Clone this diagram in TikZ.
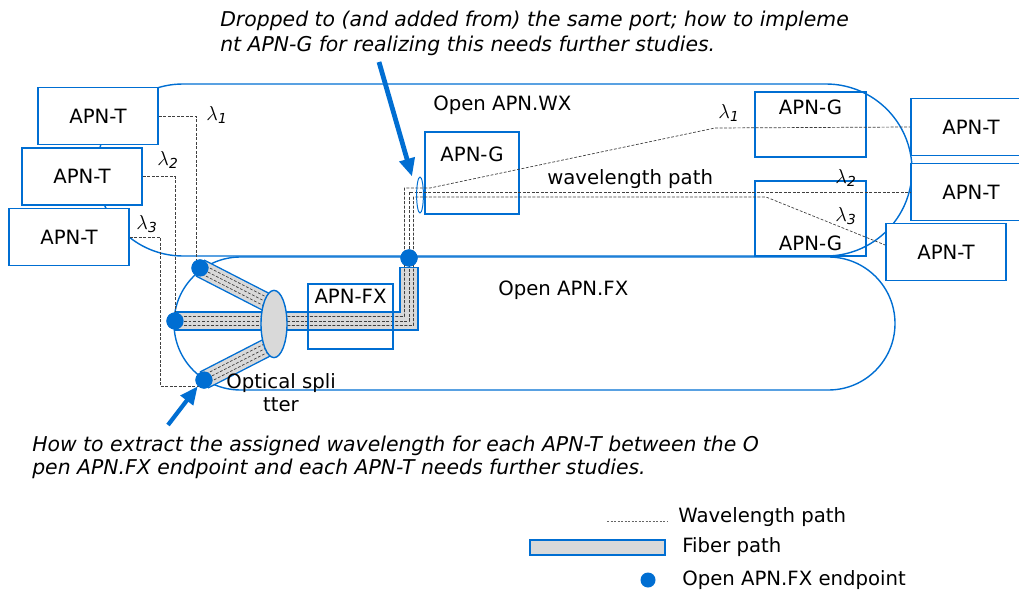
\documentclass[tikz,border=0pt]{standalone}
\usepackage{fontspec}
\setmainfont{DejaVu Sans}
\usetikzlibrary{shapes.geometric, arrows.meta, calc, positioning}
\definecolor{apnblue}{RGB}{0,110,210}
\definecolor{fibergray}{RGB}{217,217,217}

\begin{document}
\begin{tikzpicture}[x=0.025cm, y=-0.025cm,
    font=\fontsize{14}{16}\selectfont,
    region/.style={draw=apnblue, line width=1pt},
    apnbox/.style={draw=apnblue, line width=1.2pt, inner sep=0pt},
    tbox/.style={apnbox, fill=white, minimum width=3cm, minimum height=1.42cm},
    endpt/.style={circle, fill=apnblue, minimum size=0.43cm, inner sep=0pt},
    fiberedge/.style={draw=apnblue, line width=0.48cm, line join=miter},
    fiberfill/.style={draw=fibergray, line width=0.41cm, line join=miter},
    wl/.style={black!75, line width=0.5pt, dash pattern=on 2pt off 1.2pt},
    callout/.style={apnblue, line width=3.4pt, -{Triangle[length=0.45cm, width=0.38cm]}},
    txt/.style={anchor=west, inner sep=0pt},
    note/.style={font=\fontsize{14.5}{17.7}\selectfont\itshape, align=left, anchor=north west, inner sep=0pt}]

    \useasboundingbox (0,0) rectangle (1019,590);

    \draw[region, rounded corners=2.15cm] (97,84) rectangle (912,256);
    \draw[region, rounded corners=1.6625cm] (174,257) rectangle (895,390);

    \node[tbox] (t1) at (98,116) {APN-T};
    \node[tbox] (t2) at (82,176.5) {APN-T};
    \node[tbox] (t3) at (69,237) {APN-T};

    \node[tbox] (rt1) at (971,127) {APN-T};
    \node[tbox] (rt2) at (971,192) {APN-T};
    \node[tbox] (rt3) at (946,252) {APN-T};

    \node[apnbox, minimum width=2.35cm, minimum height=2.05cm,
        label={[anchor=north, yshift=-0.28cm]north:APN-G}] (g1) at (472,173) {};
    \node[apnbox, minimum width=2.775cm, minimum height=1.625cm,
        label={[anchor=north, yshift=-0.1cm]north:APN-G}] (g2) at (810.5,124.5) {};
    \node[apnbox, minimum width=2.775cm, minimum height=1.875cm,
        label={[anchor=south, yshift=0.02cm]south:APN-G}] (g3) at (810.5,218.5) {};

    \node[txt] (wxlabel) at (433,105) {Open APN.WX};
    \node[txt] (fxlabel) at (498,290) {Open APN.FX};
    \node[txt] (wllabel) at (547,179) {wavelength path};

    \node (lam1) at (217,115) {$\lambda_{\mathit{1}}$};
    \node (lam2) at (168,160) {$\lambda_{\mathit{2}}$};
    \node (lam3) at (147,224) {$\lambda_{\mathit{3}}$};
    \node (rlam1) at (729,113) {$\lambda_{\mathit{1}}$};
    \node (rlam2) at (846,178) {$\lambda_{\mathit{2}}$};
    \node (rlam3) at (846,216) {$\lambda_{\mathit{3}}$};

    \node[endpt] (d1) at (200,268) {};
    \node[endpt] (d2) at (175,321) {};
    \node[endpt] (d3) at (204,380) {};
    \node[endpt] (d4) at (409,258) {};
    \coordinate (sp) at (274,324);
    \coordinate (spa) at (274,306);
    \coordinate (spc) at (274,344);

    \draw[fiberedge] (d1.center) -- (spa);
    \draw[fiberfill] (d1.center) -- (spa);
    \draw[fiberedge] (d3.center) -- (spc);
    \draw[fiberfill] (d3.center) -- (spc);
    \draw[fiberedge] (d2.center) -- (409,321) -- (409,267);
    \draw[fiberfill] (d2.center) -- (409,321) -- (409,267.7);

    \draw[wl] (198,272) -- (272,310) (200,268) -- (274,306) (202,264) -- (276,302);
    \draw[wl] (202,376) -- (272,340) (204,380) -- (274,344) (206,384) -- (276,348);

    \draw[wl] ([yshift=0.1125cm]d2.center) -- (404.5,316.5) -- (404.5,188) -- (430,188) -- (715,128) -- (rt1.west);
    \draw[wl] (d2.center) -- (409,321) -- (409,192) -- (rt2.west);
    \draw[wl] ([yshift=-0.1125cm]d2.center) -- (413.5,325.5) -- (413.5,197) -- (766,197) -- ([yshift=0.175cm]rt3.west);

    \node[ellipse, draw=apnblue, fill=fibergray, line width=1pt, minimum width=0.65cm, minimum height=1.68cm, inner sep=0pt] (split) at (sp) {};
    \node[apnbox, minimum width=2.125cm, minimum height=1.625cm,
        label={[anchor=north, yshift=-0.02cm]north:APN-FX}] (fx) at (350.5,316.5) {};
    \node[ellipse, draw=apnblue, line width=0.7pt, minimum width=0.17cm, minimum height=0.9cm, inner sep=0pt] (port) at (420,195) {};

    \coordinate (k3) at (160,386);
    \draw[wl] (t1.east) -| ([xshift=-0.1cm]d1.north);
    \draw[wl] (t2.east) -| (d2.north);
    \draw[wl] (t3.east) -| (k3) -- (k3 -| d3);

    \node[endpt] at (d1) {};
    \node[endpt] at (d2) {};
    \node[endpt] at (d3) {};
    \node[endpt] at (d4) {};

    \node[align=center, font=\fontsize{14}{16.3}\selectfont] (splitlabel) at (281,393) {Optical spli\\tter};

    \coordinate (a1) at (379,62);
    \coordinate (a2) at (168,425);
    \draw[callout] (a1) -- ([xshift=-0.2cm]port.north);
    \draw[callout, line width=3pt] (a2) -- (d3.south west);

    \node[note] (dropnote) at (220,11) {Dropped to (and added from) the same port; how to impleme\\nt APN-G for realizing this needs further studies.};
    \node[note, font=\fontsize{14.5}{16.5}\selectfont\itshape] (extractnote) at (32,436) {How to extract the assigned wavelength for each APN-T between the O\\pen APN.FX endpoint and each APN-T needs further studies.};

    \draw[black!60, line width=0.5pt, dash pattern=on 1.5pt off 1pt] (607,521) -- (667,521);
    \node[txt] (legwl) at (678,517) {Wavelength path};
    \draw[fill=fibergray, draw=apnblue, line width=1pt] (530,540) rectangle (665,555);
    \node[txt] (legfiber) at (682,547) {Fiber path};
    \node[endpt, minimum size=0.375cm] (legdot) at (648,580) {};
    \node[txt] (legend) at (682,580) {Open APN.FX endpoint};
\end{tikzpicture}
\end{document}
